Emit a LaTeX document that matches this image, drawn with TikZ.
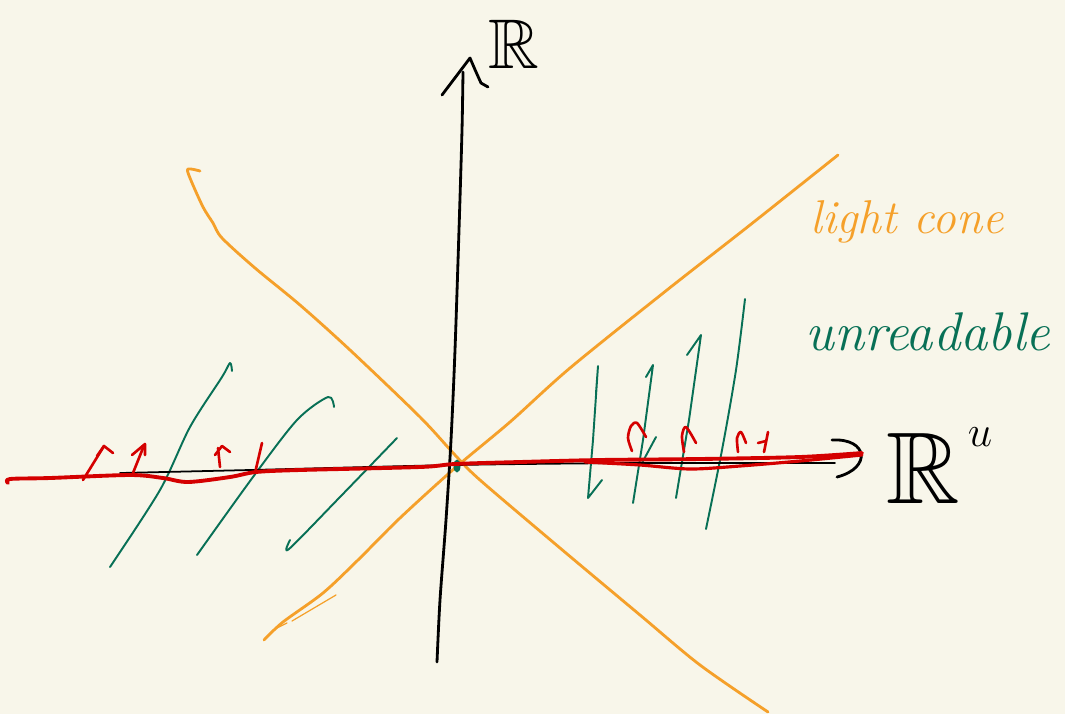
\documentclass[tikz,border=0pt]{standalone}
\usepackage{amssymb}
\usetikzlibrary{positioning}
\definecolor{paper}{RGB}{248,246,234}
\definecolor{conecol}{RGB}{245,160,42}
\definecolor{hatchcol}{RGB}{8,112,86}
\definecolor{sectcol}{RGB}{212,0,0}

\begin{document}
\begin{tikzpicture}[
    x=0.02cm, y=-0.02cm,
    axis/.style={black, line width=1.6pt, line cap=round, line join=round},
    cone/.style={conecol, line width=1.6pt, line cap=round, line join=round},
    hatch/.style={hatchcol, line width=1.1pt, line cap=round, line join=round},
    sect/.style={sectcol, line width=2.2pt, line cap=round, line join=round},
    vec/.style={sectcol, line width=1.5pt, line cap=round, line join=round},
    lbl/.style={inner sep=0pt}
  ]
    \fill[paper] (0,0) rectangle (1065,714);
    \useasboundingbox (0,0) rectangle (1065,714);

    % light cone
    \draw[cone] plot[smooth] coordinates {(200,171) (188,169) (190,178) (203,207) (213,223)
      (222,238) (255,268) (300,305) (350,350) (420,417) (455,455) (480,480) (560,548)
      (640,615) (700,665) (768,712)};
    \draw[cone] plot[smooth] coordinates {(264,640) (283,622) (323,593) (358,560) (400,518)
      (455,468) (510,422) (570,368) (667,290) (750,225) (838,155)};
    \draw[cone, line width=0.7pt] (292,621) -- (336,595);
    \draw[cone, line width=0.7pt] (277,628) -- (287,623);

    % unreadable region
    \draw[hatch] plot[smooth] coordinates {(110,567) (160,490) (190,427) (222,377) (230,363) (232,371)};
    \draw[hatch] plot[smooth] coordinates {(197,555) (253,477) (297,420) (328,397) (334,407)};
    \draw[hatch] plot[smooth] coordinates {(290,540) (289,549) (340,497) (397,438)};
    \draw[hatch] (596,393) -- (598,366) -- (593,440) -- (588,498) -- (602,480);
    \draw[hatch] (646,377) -- (653,365) -- (643,440) -- (633,503);
    \draw[hatch] (642,463) -- (656,437);
    \draw[hatch] (687,355) -- (701,335) -- (689,420) -- (676,498);
    \draw[hatch] plot[smooth] coordinates {(745,299) (736,370) (722,450) (706,529)};
    \fill[hatchcol] (457,466) ellipse (3.5 and 6.5);

    % axes
    \draw[axis] plot[smooth] coordinates {(437,662) (440,600) (446,520) (451,440)
      (455,350) (459,230) (462,130) (463,72)};
    \draw[axis] (442,95) -- (470,58) .. controls (476,72) .. (481,83) -- (488,87);
    \draw[axis, line width=1pt] plot[smooth] coordinates {(120,473) (250,470) (455,465) (640,463) (835,463)};
    \draw[axis] (832,440) .. controls (868,438) and (872,468) .. (837,477);

    % section
    \draw[sect] plot[smooth] coordinates {(8,483) (10,479) (50,478) (130,475) (163,478)
      (188,482) (230,477) (256,472) (300,470) (420,467) (455,464) (520,462) (600,460)
      (700,459) (800,457) (862,453)};
    \draw[sect, line width=1.8pt] plot[smooth] coordinates {(585,462) (640,465) (690,469)
      (740,466) (800,461) (862,455)};

    \draw[vec] (83,480) -- (104,446);
    \draw[vec] (97,456) -- (104,446) -- (113,453);
    \draw[vec] (133,473) -- (143,448);
    \draw[vec] (132,455) -- (145,444) -- (145,455);
    \draw[vec] (220,467) -- (218,448);
    \draw[vec] (215,455) -- (222,446) -- (230,452);
    \draw[vec] (255,473) -- (262,443);
    \draw[vec] plot[smooth] coordinates {(632,451) (628,438) (631,426) (637,423) (646,437)};
    \draw[vec] plot[smooth] coordinates {(684,452) (682,436) (686,427) (696,443)};
    \draw[vec] plot[smooth] coordinates {(738,452) (737,438) (741,432) (746,443)};
    \draw[vec] (764,452) -- (768,432);
    \draw[vec] (758,443) -- (766,441);

    % labels
    \node[lbl, anchor=base, text height=28pt, text depth=0pt, font=\fontsize{40}{42}\selectfont] (rline) at (514,68) {$\mathbb{R}$};
    \node[lbl, anchor=base, font=\fontsize{58}{60}\selectfont] (rspace) at (923,503) {$\mathbb{R}$};
    \node[lbl, anchor=base, font=\fontsize{28}{30}\selectfont] (rdim) at (980,446) {$u$};
    \node[lbl, conecol, font=\fontsize{27}{30}\selectfont\itshape] (conelbl) at (907,222) {light cone};
    \node[lbl, hatchcol, font=\fontsize{31}{34}\selectfont\itshape] (unreadlbl) at (928,332) {unreadable};
\end{tikzpicture}
\end{document}
